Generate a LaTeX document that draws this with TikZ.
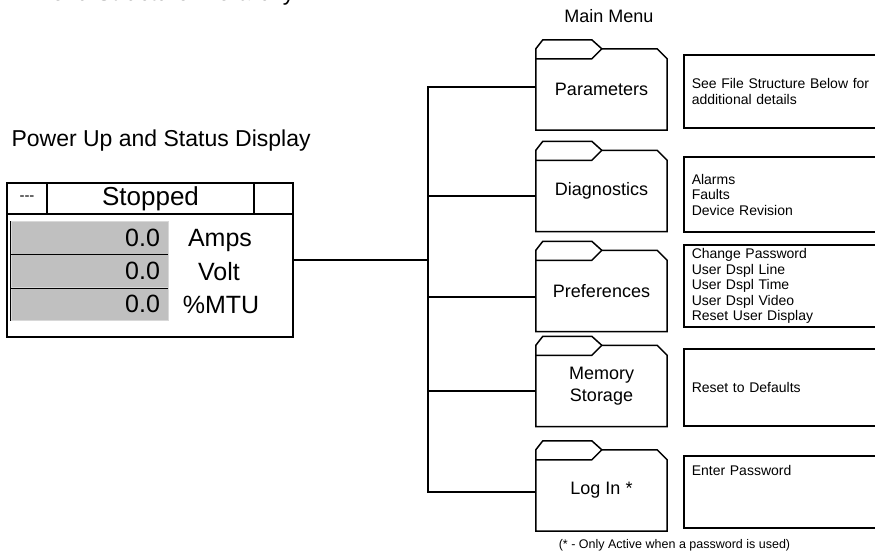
\documentclass[tikz,border=0pt]{standalone}
\usepackage{fontspec}
\setmainfont{Liberation Sans}
\usepackage{tikz}
\usetikzlibrary{positioning,calc}

\definecolor{barfill}{HTML}{C0C0C0}
\definecolor{baredge}{HTML}{D8D8D8}
\newcommand{\fsz}[2]{\fontsize{#1}{#2}\selectfont}

\begin{document}
\begin{tikzpicture}[
            x=1pt, y=-1pt,
            % Style for lines (folder outlines, connectors)
            wire/.style={line width=1.5pt},
            % Style for a folder body (outline is drawn afterwards)
            folder/.style={minimum width=131pt, minimum height=81pt, inner sep=0pt, align=center, font=\fsz{18}{22}},
            % Style for the description boxes on the right
            infobox/.style={draw, line width=1.5pt, anchor=west, minimum width=197pt, text width=181pt,
                            inner xsep=8pt, inner ysep=2pt, align=left, font=\fsz{14}{15.5}},
            % Style for the header cells of the status display
            cell/.style={draw, line width=1.5pt, minimum height=31pt, inner sep=0pt},
            % Style for the grey value bars
            valbar/.style={fill=barfill, draw=baredge, line width=0.8pt, minimum width=157pt, minimum height=33pt,
                           text width=141pt, inner xsep=8pt, inner ysep=0pt, align=right, font=\fsz{25}{25}},
            % Style for the units next to the bars
            unit/.style={anchor=base, inner sep=0pt, font=\fsz{25}{25}}
        ]
            \useasboundingbox (0,0) rectangle (875,553);

            % --- 1. HEADINGS ---
            \node[anchor=base east, font=\fsz{23}{23}] (title) at (298,1) {Menu Structure Hierarchy};
            \node[anchor=base west, font=\fsz{23}{23}] (statushead) at (8,147) {Power Up and Status Display};
            \node[font=\fsz{18}{18}] (menuhead) at (609,16) {Main Menu};

            % --- 2. STATUS DISPLAY ---
            \node[draw, line width=1.5pt, minimum width=286pt, minimum height=154pt] (status) at (150,260) {};
            \node[cell, minimum width=40pt, font=\fsz{15}{15}] (dashcell) at (27,198.5) {-{}-{}-};
            \node[cell, minimum width=207pt, font=\fsz{26}{26}] (statecell) at (150.5,198.5) {Stopped};
            \node[cell, minimum width=39pt] (endcell) at (273.5,198.5) {};

            % Value bars
            \node[valbar] (ampsbar) at (89.5,238) {0.0};
            \node[valbar] (voltbar) at (89.5,271) {0.0};
            \node[valbar] (mtubar) at (89.5,304) {0.0};
            \draw[line width=1.2pt] (ampsbar.north west) -- (mtubar.south west);
            \draw[line width=0.8pt] (ampsbar.south west) -- (ampsbar.south east);
            \draw[line width=0.8pt] (voltbar.south west) -- (voltbar.south east);

            % Units
            \node[unit] (ampslbl) at (220,247) {Amps};
            \node[unit] (voltlbl) at (219,280) {Volt};
            \node[unit] (mtulbl) at (221,313) {\%MTU};

            % --- 3. MAIN MENU FOLDERS ---
            \node[folder] (par) at (601.5,89.5) {Parameters};
            \node[folder] (dia) at (601.5,191) {Diagnostics};
            \node[folder] (pre) at (601.5,291) {Preferences};
            \node[folder] (mem) at (601.5,386) {Memory\\Storage};
            \node[folder] (log) at (601.5,490.5) {Log In *};

            % Folder outlines with tab
            \foreach \f in {par,dia,pre,mem,log} {
                \draw[wire] (\f.south west) -- (\f.north west) -- ++(7,-9) -- ++(49,0) -- ++(10,9)
                    -- ([xshift=-10pt]\f.north east) -- ++(10,10) -- (\f.south east) -- cycle;
                \draw[wire] ([yshift=-10pt]\f.north west) -- ++(56,0) -- ++(10,-10);
            }

            % --- 4. DESCRIPTION BOXES ---
            \node[infobox, minimum height=73pt] (parinfo) at (683,91.5) {See File Structure Below for\\additional details};
            \node[infobox, minimum height=75pt] (diainfo) at (683,194.5) {Alarms\\Faults\\Device Revision};
            \node[infobox, minimum height=82pt] (preinfo) at (683,286) {Change Password\\User Dspl Line\\User Dspl Time\\User Dspl Video\\Reset User Display};
            \node[infobox, minimum height=77pt] (meminfo) at (683,387.5) {Reset to Defaults};
            \node[infobox, minimum height=72pt, text depth=44pt] (loginfo) at (683,492) {Enter Password};

            \node[font=\fsz{12.5}{12.5}] (footnote) at (674.5,545) {(* - Only Active when a password is used)};

            % --- 5. CONNECTORS ---
            \coordinate (trunk) at (428,260);
            \draw[wire] (status.east) -- (trunk);
            \foreach \f/\s in {par/2.5, dia/-5, pre/-6, mem/-5, log/-1.5}
                \draw[wire] ([yshift=\s pt]\f.west) -| (trunk);

        \end{tikzpicture}
\end{document}
